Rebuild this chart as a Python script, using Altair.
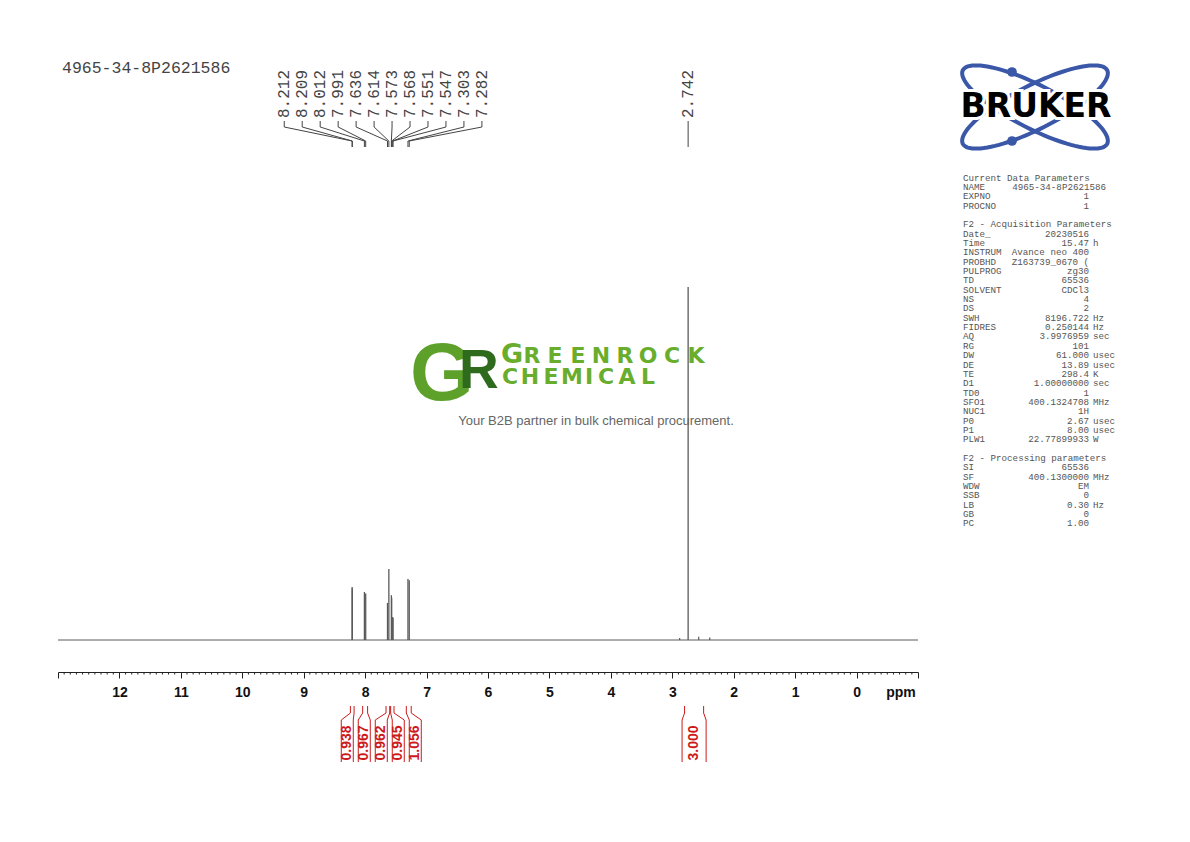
import altair as alt
import numpy as np
import pandas as pd

# ---------------- data ----------------
SAMPLE = "4965-34-8P2621586"

peak_ppm = [8.212, 8.209, 8.012, 7.991, 7.636, 7.614, 7.573, 7.568, 7.551, 7.547, 7.303, 7.282, 2.742]
peak_int = [15.0, 14.6, 13.6, 13.2, 10.5, 20.1, 12.7, 12.0, 6.5, 6.2, 17.3, 16.9, 100.0]
peak_label = ["8.212", "8.209", "8.012", "7.991", "7.636", "7.614", "7.573", "7.568",
              "7.551", "7.547", "7.303", "7.282", "2.742"]
peak_group = ["ar"] * 12 + ["me"]

impurity_ppm = [2.88, 2.57, 2.39]
impurity_int = [0.6, 0.9, 0.7]

int_value = ["0.938", "0.967", "0.962", "0.945", "1.056", "3.000"]
int_hi = [8.24, 8.04, 7.66, 7.585, 7.33, 2.80]
int_lo = [8.18, 7.96, 7.60, 7.53, 7.25, 2.49]
int_group = ["ar"] * 5 + ["me"]

axis_values = [13, 12, 11, 10, 9, 8, 7, 6, 5, 4, 3, 2, 1, 0, -1]
PPM_MAX, PPM_MIN = 13, -1

par_names = ["Current Data Parameters", "NAME", "EXPNO", "PROCNO", "",
             "F2 - Acquisition Parameters", "Date_", "Time", "INSTRUM", "PROBHD", "PULPROG",
             "TD", "SOLVENT", "NS", "DS", "SWH", "FIDRES", "AQ", "RG", "DW", "DE", "TE", "D1",
             "TD0", "SFO1", "NUC1", "P0", "P1", "PLW1", "",
             "F2 - Processing parameters", "SI", "SF", "WDW", "SSB", "LB", "GB", "PC"]
par_values = ["", SAMPLE, "1", "1", "",
              "", "20230516", "15.47", "Avance neo 400", "Z163739_0670 (", "zg30",
              "65536", "CDCl3", "4", "2", "8196.722", "0.250144", "3.9976959", "101", "61.000",
              "13.89", "298.4", "1.00000000", "1", "400.1324708", "1H", "2.67", "8.00",
              "22.77899933", "",
              "", "65536", "400.1300000", "EM", "0", "0.30", "0", "1.00"]
par_units = ["", "", "", "", "",
             "", "", "h", "", "", "", "", "", "", "", "Hz", "Hz", "sec", "", "usec", "usec",
             "K", "sec", "", "MHz", "", "usec", "usec", "W", "",
             "", "", "MHz", "", "", "Hz", "", ""]

# ---------------- layout ----------------
W, H = 860, 512
OX, OY = 58, 160          # page position of plot origin
PXPPM = W / (PPM_MAX - PPM_MIN)
GRAY = "#5a5a5a"
RED = "#cc1a1a"
MONO = "Liberation Mono"
SANS = "Liberation Sans"


def spread(centers, groups, spacing):
    out = []
    for i, g in enumerate(groups):
        idx = [j for j, gg in enumerate(groups) if gg == g]
        k, n = idx.index(i), len(idx)
        mid = float(np.mean([centers[j] for j in idx]))
        out.append(mid + (n - 1) / 2 * spacing - k * spacing)
    return out


xs = alt.Scale(domain=[PPM_MAX, PPM_MIN], nice=False, zero=False)
ys = alt.Scale(domain=[0, 100], range=[480, 127], nice=False, zero=False)
ax = alt.Axis(values=axis_values, format="d",
              labelExpr="datum.value >= 0 && datum.value <= 12 ? datum.label : ''",
              tickSize=6, tickColor="#222", domainColor="#222", tickWidth=1, domainWidth=1,
              labelFont=SANS, labelFontWeight="bold", labelFontSize=14, labelColor="#111",
              labelPadding=7, grid=False, title=None, labelOverlap=False, labelFlush=False)


def X(field):
    return alt.X(field, scale=xs, axis=ax)


peaks = pd.DataFrame({"ppm": peak_ppm, "int": peak_int, "label": peak_label, "g": peak_group})
peaks["lab"] = spread(peak_ppm, peak_group, 17.97 / PXPPM)
imp = pd.DataFrame({"ppm": impurity_ppm, "int": impurity_int})
one = pd.DataFrame({"k": [0]})

integ = pd.DataFrame({"v": int_value, "hi": int_hi, "lo": int_lo, "g": int_group})
integ["c"] = (integ["hi"] + integ["lo"]) / 2
integ["lab"] = spread(list(integ["c"]), int_group, 17.0 / PXPPM)
integ["hw"] = [max(6.0, (h - l) / 2 * PXPPM + 2.5) / PXPPM for h, l in zip(int_hi, int_lo)]
sides = []
for _, r in integ.iterrows():
    sides.append({"lim": r.hi, "edge": r.lab + r.hw})
    sides.append({"lim": r.lo, "edge": r.lab - r.hw})
sides = pd.DataFrame(sides)

minor = pd.DataFrame({"t": [round(v, 1) for v in np.arange(PPM_MIN, PPM_MAX + 0.001, 0.1)
                            if abs(v - round(v)) > 1e-6]})


def px(v):
    return alt.value(v - OX)


def py(v):
    return alt.value(v - OY)


layers = []
# baseline + peaks
layers.append(alt.Chart(one).mark_rule(color=GRAY, strokeWidth=1).encode(
    x=alt.X(datum=PPM_MAX, scale=xs, axis=ax), x2=alt.datum(PPM_MIN),
    y=alt.Y(datum=0, scale=ys, axis=None)))
layers.append(alt.Chart(peaks).mark_rule(color=GRAY, strokeWidth=1.3).encode(
    x=X("ppm:Q"), y=alt.Y("int:Q", scale=ys, axis=None), y2=alt.datum(0)))
layers.append(alt.Chart(imp).mark_rule(color=GRAY, strokeWidth=1.2).encode(
    x=X("ppm:Q"), y=alt.Y("int:Q", scale=ys, axis=None), y2=alt.datum(0)))
# minor ticks
layers.append(alt.Chart(minor).mark_rule(color="#222", strokeWidth=1).encode(
    x=X("t:Q"), y=alt.value(H), y2=alt.value(H + 2.5)))
# peak labels + connectors
layers.append(alt.Chart(peaks).mark_text(angle=270, align="left", baseline="middle",
                                         font=MONO, fontSize=16, color="#444").encode(
    x=X("lab:Q"), y=py(118), text="label:N"))
layers.append(alt.Chart(peaks).mark_rule(color="#444", strokeWidth=1).encode(
    x=X("lab:Q"), y=py(121), y2=py(127)))
layers.append(alt.Chart(peaks).mark_rule(color="#444", strokeWidth=1).encode(
    x=X("lab:Q"), x2="ppm:Q", y=py(127), y2=py(141)))
layers.append(alt.Chart(peaks).mark_rule(color="#444", strokeWidth=1).encode(
    x=X("ppm:Q"), y=py(141), y2=py(147)))
# integrals
layers.append(alt.Chart(sides).mark_rule(color=RED, strokeWidth=1).encode(
    x=X("lim:Q"), y=py(706), y2=py(713)))
layers.append(alt.Chart(sides).mark_rule(color=RED, strokeWidth=1).encode(
    x=X("lim:Q"), x2="edge:Q", y=py(713), y2=py(720)))
layers.append(alt.Chart(sides).mark_rule(color=RED, strokeWidth=1).encode(
    x=X("edge:Q"), y=py(720), y2=py(762)))
layers.append(alt.Chart(integ).mark_text(angle=270, align="center", baseline="middle",
                                         font=SANS, fontWeight="bold", fontSize=14,
                                         color=RED).encode(
    x=X("lab:Q"), y=py(743), text="v:N"))


def ftext(txt, x, y, **kw):
    return alt.Chart(one).mark_text(text=txt, **kw).encode(x=px(x), y=py(y))


# title and ppm label
layers.append(ftext(SAMPLE, 62, 68, align="left", baseline="middle", font=MONO,
                    fontSize=16.5, color="#444"))
layers.append(ftext("ppm", 901, 693, align="center", baseline="middle", font=SANS,
                    fontWeight="bold", fontSize=14, color="#111"))

# parameter panel, one text per row
LH = 9.35
PY0 = 180.5
pstyle = dict(baseline="alphabetic", font=MONO, fontSize=9.2, color="#555")
for i, (nm, vl, un) in enumerate(zip(par_names, par_values, par_units)):
    yy = PY0 + i * LH
    if nm:
        layers.append(ftext(nm, 963, yy, align="left", **pstyle))
    if vl:
        xr = 1106 if nm == "NAME" else 1089
        layers.append(ftext(vl, xr, yy, align="right", **pstyle))
    if un:
        layers.append(ftext(un, 1093, yy, align="left", **pstyle))

# Bruker logo
tt = np.linspace(0, 2 * np.pi, 97)
ell = "M " + " L ".join(f"{np.cos(a):.4f} {0.27 * np.sin(a):.4f}" for a in tt) + " Z"
for ang in (27, 333):
    layers.append(alt.Chart(one).mark_point(shape=ell, size=162 ** 2, filled=False,
                                            stroke="#3b58a8", strokeWidth=4, opacity=1,
                                            angle=ang).encode(x=px(1035), y=py(107)))
for dy in (72, 141):
    layers.append(alt.Chart(one).mark_point(shape="circle", size=95, filled=True,
                                            color="#3b58a8", opacity=1).encode(
        x=px(1012), y=py(dy)))
layers.append(ftext("BRUKER", 1036, 107, align="center", baseline="middle",
                    font="DejaVu Sans", fontWeight="bold", fontSize=33, color="white",
                    stroke="white", strokeWidth=6))
layers.append(ftext("BRUKER", 1036, 107, align="center", baseline="middle",
                    font="DejaVu Sans", fontWeight="bold", fontSize=33, color="black"))

# watermark
layers.append(ftext("G", 410, 400, align="left", baseline="alphabetic", font=SANS,
                    fontWeight="bold", fontSize=82, color="#5da12b"))
layers.append(ftext("R", 459, 388, align="left", baseline="alphabetic", font=SANS,
                    fontWeight="bold", fontSize=55, color="#2f6b1d"))
layers.append(ftext("G", 512, 362.5, align="center", baseline="alphabetic", font="DejaVu Sans",
                    fontWeight="bold", fontSize=27, color="#69ad2d"))
for ch, cx in zip("REENROCK", [532, 555, 578, 601, 625, 648, 672, 696]):
    layers.append(ftext(ch, cx, 362.5, align="center", baseline="alphabetic",
                        font="DejaVu Sans", fontWeight="bold", fontSize=22, color="#69ad2d"))
for ch, cx in zip("CHEMICAL", [510, 530, 551, 572, 589, 606, 627, 648]):
    layers.append(ftext(ch, cx, 384, align="center", baseline="alphabetic",
                        font="DejaVu Sans", fontWeight="bold", fontSize=22, color="#69ad2d"))
layers.append(ftext("Your B2B partner in bulk chemical procurement.", 596, 421,
                    align="center", baseline="middle", font=SANS, fontSize=13, color="#666"))

chart = alt.layer(*layers).properties(
    width=W, height=H,
    padding={"left": 50, "top": 152, "right": 260, "bottom": 150},
    autosize=alt.AutoSizeParams(type="none"),
).configure_view(strokeWidth=0)

chart.save("out.html", embed_options={"renderer": "svg", "actions": False})
